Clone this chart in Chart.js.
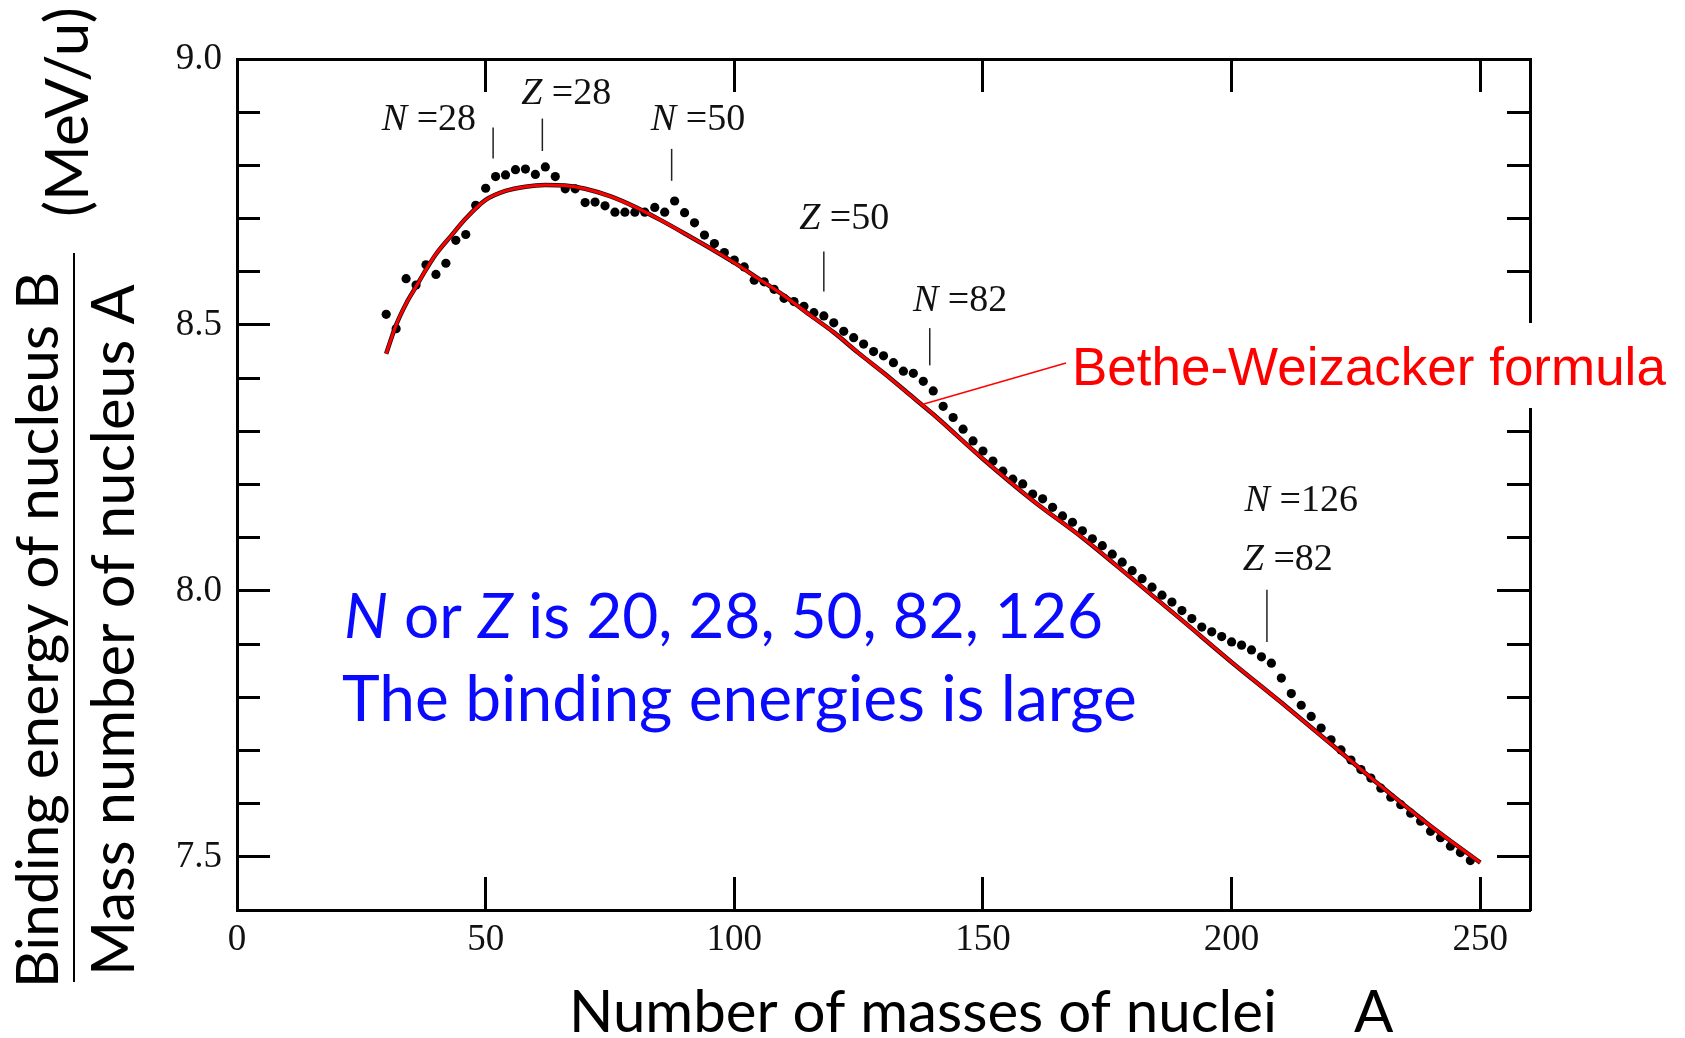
<!DOCTYPE html>
<html>
<head>
<meta charset="utf-8">
<title>Binding energy per nucleon</title>
<script src="https://cdn.jsdelivr.net/npm/chart.js@4.4.1/dist/chart.umd.min.js"></script>
<style>
  html, body { margin: 0; padding: 0; background: #fff; }
  #wrap { position: relative; width: 1685px; height: 1038px; }
</style>
</head>
<body>
<div id="wrap"><canvas id="beChart"></canvas></div>
<script>
// Measured binding energy per nucleon B/A (MeV) against mass number A
const massNumbers = [
  30, 32, 34, 36, 38, 40, 42, 44, 46, 48, 50, 52, 54, 56, 58, 60, 62, 64, 66, 68,
  70, 72, 74, 76, 78, 80, 82, 84, 86, 88, 90, 92, 94, 96, 98, 100, 102, 104, 106, 108,
  110, 112, 114, 116, 118, 120, 122, 124, 126, 128, 130, 132, 134, 136, 138, 140, 142, 144, 146, 148,
  150, 152, 154, 156, 158, 160, 162, 164, 166, 168, 170, 172, 174, 176, 178, 180, 182, 184, 186, 188,
  190, 192, 194, 196, 198, 200, 202, 204, 206, 208, 210, 212, 214, 216, 218, 220, 222, 224, 226, 228,
  230, 232, 234, 236, 238, 240, 242, 244, 246, 248
];
const bindingPerNucleon = [
  8.520, 8.493, 8.587, 8.575, 8.613, 8.595, 8.616, 8.659, 8.670, 8.725, 8.757, 8.779, 8.782, 8.792, 8.793, 8.783, 8.797, 8.779, 8.756, 8.756,
  8.730, 8.731, 8.724, 8.712, 8.712, 8.712, 8.712, 8.721, 8.712, 8.733, 8.711, 8.692, 8.669, 8.653, 8.636, 8.622, 8.609, 8.584, 8.581, 8.567,
  8.550, 8.544, 8.535, 8.523, 8.517, 8.504, 8.488, 8.476, 8.464, 8.450, 8.442, 8.429, 8.413, 8.409, 8.394, 8.376, 8.347, 8.326, 8.304, 8.282,
  8.263, 8.244, 8.225, 8.210, 8.201, 8.182, 8.173, 8.157, 8.141, 8.129, 8.113, 8.098, 8.085, 8.069, 8.054, 8.038, 8.023, 8.007, 7.992, 7.979,
  7.963, 7.948, 7.932, 7.923, 7.914, 7.904, 7.898, 7.889, 7.876, 7.864, 7.836, 7.807, 7.785, 7.764, 7.742, 7.720, 7.701, 7.682, 7.664, 7.648,
  7.629, 7.612, 7.598, 7.582, 7.567, 7.548, 7.536, 7.520, 7.508, 7.493
];

// Bethe-Weizsacker (semi-empirical mass formula) curve
const formulaA = [30, 32, 34, 36, 38, 40, 43, 46, 50, 54, 58, 62, 66, 70, 75, 80, 85, 90, 95, 100,
  105, 110, 115, 120, 125, 130, 135, 140, 150, 160, 170, 180, 190, 200, 210, 220, 230, 240, 250];
const formulaBE = [8.446, 8.500, 8.540, 8.572, 8.604, 8.633, 8.667, 8.700, 8.735, 8.752, 8.760, 8.763, 8.762, 8.756, 8.742, 8.722, 8.698, 8.672, 8.645, 8.617,
  8.586, 8.555, 8.520, 8.486, 8.447, 8.410, 8.371, 8.332, 8.248, 8.170, 8.100, 8.023, 7.945, 7.866, 7.790, 7.712, 7.633, 7.558, 7.489];

// Shell closures: mass number of the marked nucleus and the span of its marker (B/A)
const magicNames = [['N', '=28'], ['Z', '=28'], ['N', '=50'], ['Z', '=50'], ['N', '=82'], ['Z', '=82']];
const magicA = [51.5, 61.4, 87.4, 118.0, 139.3, 207.1];
const magicTop = [8.871, 8.888, 8.831, 8.638, 8.494, 8.002];
const magicBottom = [8.813, 8.827, 8.771, 8.563, 8.424, 7.904];

// Axis ranges
const xRange = [0, 260];
const yRange = [7.4, 9.0];

// label anchors in data units (A, B/A)
const magicLabelAt = [[38.6, 8.885], [66.2, 8.935], [92.7, 8.885], [122.1, 8.700], [145.4, 8.545], [211.3, 8.058]];
const extraLabel = { runs: [['N', true], [' =126', false]], at: [214.0, 8.169] };
const formulaLeaderFrom = [137.6, 8.350];

const SERIF = "'Liberation Serif', 'Times New Roman', serif";
const SANS = "'Liberation Sans', Arial, sans-serif";
const BODY = "Lato, 'Open Sans', sans-serif";

function fitSize(ctx, text, family, width, style = '') {
  ctx.font = `${style}100px ${family}`;
  return 100 * width / ctx.measureText(text).width;
}

function runsWidth(ctx, runs, size, family) {
  return runs.reduce((w, [t, it]) => {
    ctx.font = `${it ? 'italic ' : ''}${size}px ${family}`;
    return w + ctx.measureText(t).width;
  }, 0);
}

// draws a line of text made of upright/italic runs
function drawRuns(ctx, runs, x, y, size, family, align) {
  const total = runsWidth(ctx, runs, size, family);
  let cx = align === 'center' ? x - total / 2 : x;
  ctx.textAlign = 'left';
  runs.forEach(([t, it]) => {
    ctx.font = `${it ? 'italic ' : ''}${size}px ${family}`;
    ctx.fillText(t, cx, y);
    cx += ctx.measureText(t).width;
  });
}

const annotations = {
  id: 'annotations',
  afterDraw(chart) {
    const { ctx, scales } = chart;
    const xs = scales.x, ys = scales.y;
    ctx.save();

    // shell closure markers and their labels
    ctx.strokeStyle = '#222';
    ctx.lineWidth = 1.5;
    magicA.forEach((a, i) => {
      const px = xs.getPixelForValue(a);
      ctx.beginPath();
      ctx.moveTo(px, ys.getPixelForValue(magicTop[i]));
      ctx.lineTo(px, ys.getPixelForValue(magicBottom[i]));
      ctx.stroke();
    });
    ctx.fillStyle = '#111';
    ctx.textBaseline = 'middle';
    magicNames.forEach(([sym, val], i) => {
      const [a, b] = magicLabelAt[i];
      drawRuns(ctx, [[sym, true], [' ' + val, false]], xs.getPixelForValue(a), ys.getPixelForValue(b), 38, SERIF, 'center');
    });
    drawRuns(ctx, extraLabel.runs, xs.getPixelForValue(extraLabel.at[0]), ys.getPixelForValue(extraLabel.at[1]), 38, SERIF, 'center');

    // formula label with a leader to the curve
    ctx.fillStyle = '#fff';
    ctx.fillRect(1068, 323, 617, 85);
    ctx.strokeStyle = '#f00';
    ctx.lineWidth = 1.5;
    ctx.beginPath();
    ctx.moveTo(xs.getPixelForValue(formulaLeaderFrom[0]), ys.getPixelForValue(formulaLeaderFrom[1]));
    ctx.lineTo(1066, 363);
    ctx.stroke();
    const bw = 'Bethe-Weizacker formula';
    ctx.fillStyle = '#f00';
    ctx.textBaseline = 'alphabetic';
    ctx.textAlign = 'left';
    ctx.font = `${fitSize(ctx, bw, SANS, 594)}px ${SANS}`;
    ctx.fillText(bw, 1072, 385);

    // note in blue
    const note1 = [['N', true], [' or ', false], ['Z', true], [' is 20, 28, 50, 82, 126', false]];
    const note2 = 'The binding energies is large';
    const ns2 = fitSize(ctx, note2, BODY, 795);
    const ns1 = ns2 * 759 / runsWidth(ctx, note1, ns2, BODY);
    ctx.fillStyle = '#0a0aff';
    drawRuns(ctx, note1, 344, 638, ns1, BODY, 'left');
    ctx.font = `${ns2}px ${BODY}`;
    ctx.fillText(note2, 342, 721);

    // axis titles
    ctx.fillStyle = '#000';
    const xt = 'Number of masses of nuclei';
    ctx.font = `${fitSize(ctx, xt, BODY, 708)}px ${BODY}`;
    ctx.fillText(xt, 569, 1032);
    ctx.fillText('A', 1354, 1032);

    const rotText = (t, x, y, w) => {
      ctx.save();
      ctx.translate(x, y);
      ctx.rotate(-Math.PI / 2);
      ctx.font = `${fitSize(ctx, t, BODY, w)}px ${BODY}`;
      ctx.fillText(t, 0, 0);
      ctx.restore();
    };
    rotText('Binding energy of nucleus B', 58, 988, 716);
    rotText('Mass number of nucleus A', 134, 976, 692);
    rotText('(MeV/u)', 88, 217, 210);
    ctx.strokeStyle = '#000';
    ctx.lineWidth = 2;
    ctx.beginPath();
    ctx.moveTo(74, 253);
    ctx.lineTo(74, 982);
    ctx.stroke();

    ctx.restore();
  }
};

const tickFont = { family: SERIF, size: 37 };
const frame = { color: '#000', width: 3 };
const marks = len => ({ drawOnChartArea: false, tickLength: len, tickWidth: 3, tickColor: '#000' });
// fixed axis sizes; label overhang is allowed to spill past the frame
const fixWidth = w => s => { s.width = w; s.paddingTop = 0; s.paddingBottom = 0; };
const fixHeight = h => s => { s.height = h; s.paddingLeft = 0; s.paddingRight = 0; };

new Chart(document.getElementById('beChart'), {
  type: 'scatter',
  data: {
    datasets: [
      {
        label: 'Bethe-Weizacker formula',
        data: formulaA.map((a, i) => ({ x: a, y: formulaBE[i] })),
        showLine: true,
        borderColor: '#f00',
        borderWidth: 3,
        pointRadius: 0,
        cubicInterpolationMode: 'monotone',
        order: 0
      },
      {
        label: 'formula (under)',
        data: formulaA.map((a, i) => ({ x: a, y: formulaBE[i] })),
        showLine: true,
        borderColor: '#111',
        borderWidth: 4.5,
        pointRadius: 0,
        cubicInterpolationMode: 'monotone',
        order: 1
      },
      {
        label: 'B/A',
        data: massNumbers.map((a, i) => ({ x: a, y: bindingPerNucleon[i] })),
        pointRadius: 4.6,
        pointBackgroundColor: '#000',
        pointBorderWidth: 0,
        order: 2
      }
    ]
  },
  options: {
    responsive: true,
    maintainAspectRatio: false,
    animation: false,
    layout: { padding: { top: 0, right: 155, bottom: 0, left: 0 } },
    plugins: { legend: { display: false }, tooltip: { enabled: false } },
    scales: {
      x: {
        type: 'linear', position: 'bottom', min: xRange[0], max: xRange[1],
        afterFit: fixHeight(128),
        ticks: { stepSize: 50, includeBounds: false, autoSkip: false, maxRotation: 0, padding: 41, color: '#111', font: tickFont },
        grid: marks(-33),
        border: frame
      },
      xTop: {
        type: 'linear', position: 'top', min: xRange[0], max: xRange[1],
        afterFit: fixHeight(59),
        ticks: { display: false, stepSize: 50, includeBounds: false },
        grid: marks(-33),
        border: frame
      },
      y: {
        type: 'linear', position: 'left', min: yRange[0], max: yRange[1], weight: 1,
        afterFit: fixWidth(237),
        ticks: { stepSize: 0.5, includeBounds: false, autoSkip: false, padding: 48, color: '#111', font: tickFont,
          callback: v => v.toFixed(1) },
        grid: marks(-33),
        border: frame
      },
      yMinor: {
        type: 'linear', position: 'left', min: yRange[0], max: yRange[1], weight: 0,
        afterFit: fixWidth(0),
        ticks: { display: false, stepSize: 0.1, autoSkip: false },
        grid: marks(-23),
        border: { display: false }
      },
      yRight: {
        type: 'linear', position: 'right', min: yRange[0], max: yRange[1],
        afterFit: fixWidth(0),
        ticks: { display: false, stepSize: 0.5, includeBounds: false },
        grid: marks(-33),
        border: frame
      },
      yRightMinor: {
        type: 'linear', position: 'right', min: yRange[0], max: yRange[1],
        afterFit: fixWidth(0),
        ticks: { display: false, stepSize: 0.1, autoSkip: false },
        grid: marks(-23),
        border: { display: false }
      }
    }
  },
  plugins: [annotations]
});
</script>
</body>
</html>
